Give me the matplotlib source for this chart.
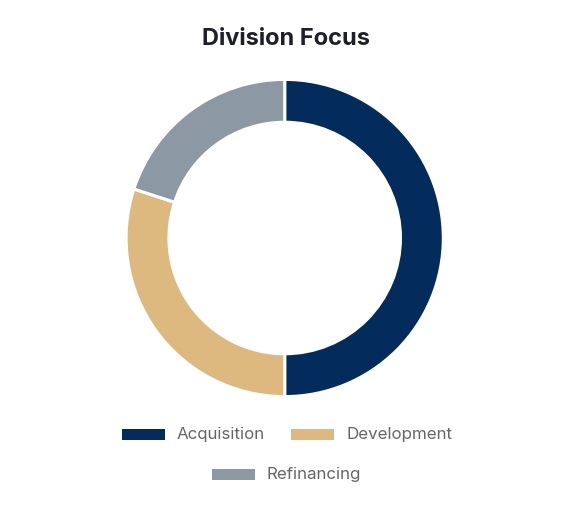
import matplotlib
matplotlib.use("Agg")
import matplotlib.pyplot as plt
from matplotlib.patches import Rectangle

categories = ["Acquisition", "Development", "Refinancing"]
values = [50, 30, 20]
colors = ["#032B5C", "#DDB97F", "#8C98A4"]
title = "Division Focus"

W, H = 569, 516
fig = plt.figure(figsize=(W / 100, H / 100), dpi=100)
plt.rcParams['font.family'] = ['Inter', 'DejaVu Sans']

cx, cy, r = 284.7, 238.0, 158.6
ax = fig.add_axes([(cx - r) / W, (H - cy - r) / H, 2 * r / W, 2 * r / H])
ax.pie(values, colors=colors, startangle=90, counterclock=False, radius=1,
       wedgeprops=dict(width=0.27, edgecolor="white", linewidth=2.2))
ax.set_xlim(-1, 1)
ax.set_ylim(-1, 1)
ax.axis("off")

fig.text(285.5 / W, 1 - 39 / H, title, ha="center", va="center",
         fontsize=17, fontweight="bold", color="#1F1F2B")

# legend (manual placement)
rows = [(434, [(122, 0), (291, 1)]), (474, [(212, 2)])]
bw, bh = 43, 11
for y, items in rows:
    for x, i in items:
        fig.patches.append(Rectangle((x / W, 1 - (y + bh / 2) / H), bw / W, bh / H,
                                     transform=fig.transFigure, facecolor=colors[i],
                                     edgecolor="none"))
        fig.text((x + bw + 12) / W, 1 - y / H, categories[i], ha="left", va="center",
                 fontsize=12.2, color="#666666")

fig.savefig("out.png", dpi=100, facecolor="white")
